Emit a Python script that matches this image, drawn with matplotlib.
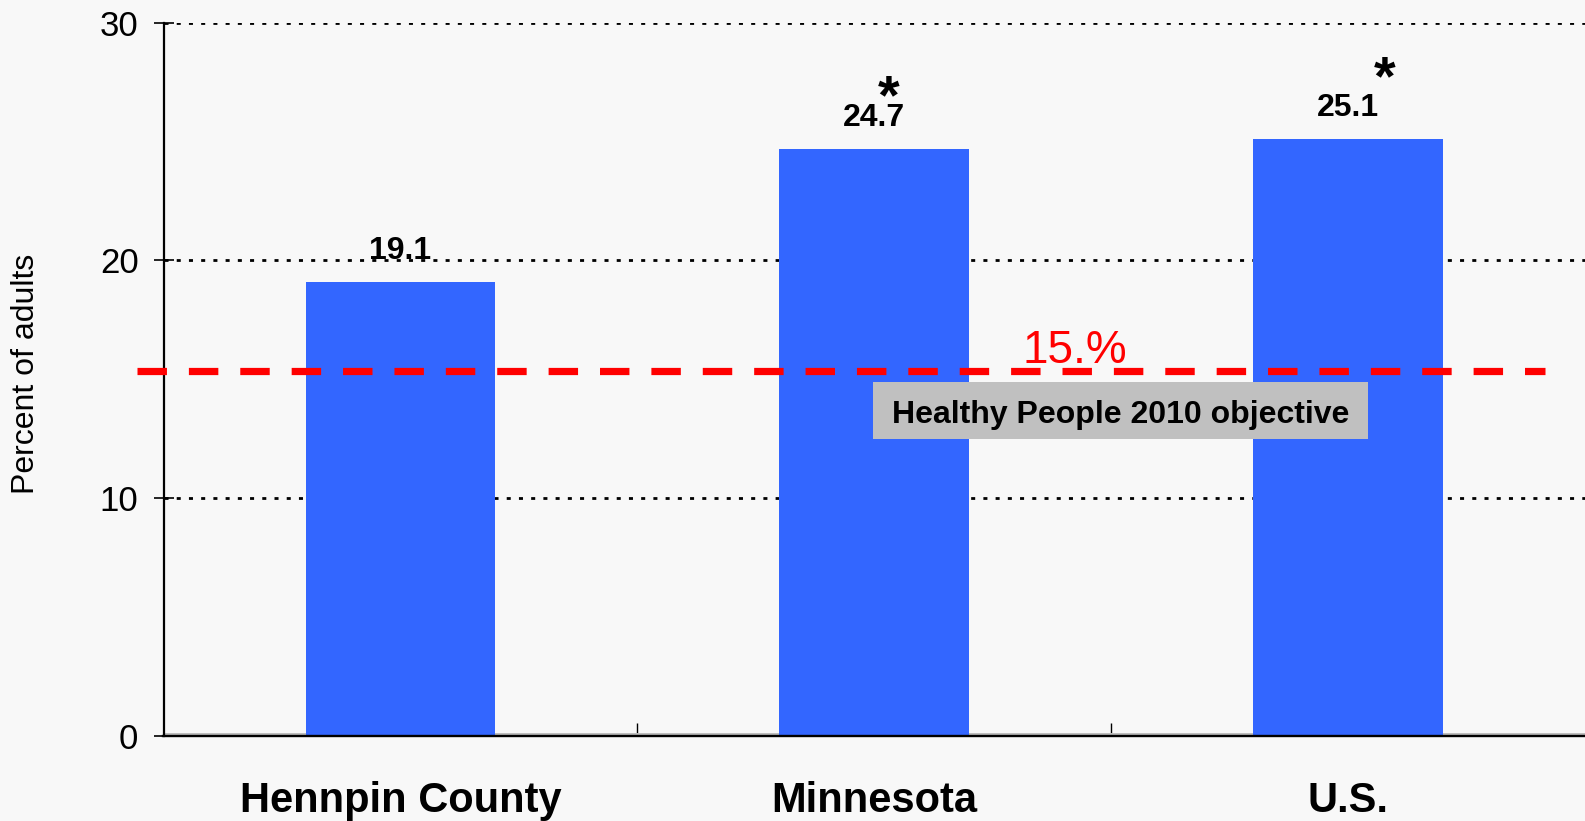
import matplotlib
matplotlib.use("Agg")
import matplotlib.pyplot as plt
from matplotlib.patches import Rectangle

CATEGORIES = ["Hennpin County", "Minnesota", "U.S."]
VALUES = [19.1, 24.7, 25.1]
VALUE_LABELS = ["19.1", "24.7", "25.1"]
SIGNIFICANT = [False, True, True]

OBJECTIVE_LEVEL = 15.35
OBJECTIVE_LABEL = "15.%"
OBJECTIVE_NOTE = "Healthy People 2010 objective"

Y_TICKS = [0, 10, 20, 30]

BAR_COLOR = "#3366ff"
BG = "#f8f8f8"

plt.rcParams.update({
    "font.family": ["Liberation Sans", "DejaVu Sans"],
    "lines.scale_dashes": False,
})

W, H = 1585, 821
fig = plt.figure(figsize=(W / 100, H / 100), dpi=100, facecolor=BG)
ax = fig.add_axes([163.5 / W, 1 - 736 / H, 1 - 163.5 / W, (736 - 22.7) / H])
ax.set_facecolor(BG)

x = list(range(len(CATEGORIES)))
ax.bar(x, VALUES, width=0.4, color=BAR_COLOR, zorder=2)

ax.set_xlim(-0.5, len(CATEGORIES) - 0.5)
ax.set_ylim(0, 30)

# dotted grid behind the bars
ax.set_axisbelow(True)
ax.set_yticks(Y_TICKS)
ax.yaxis.grid(True, color="black", linewidth=2.0, linestyle=(0, (2.9, 5.9)))

ax.tick_params(axis="y", direction="inout", length=15, width=1.2, pad=10.5,
               labelsize=25, colors="black")
ax.set_xticks([i + 0.5 for i in x[:-1]])
ax.set_xticklabels([])
ax.tick_params(axis="x", direction="in", length=9.5, width=1.0)

for side in ["top", "right"]:
    ax.spines[side].set_visible(False)
ax.spines["left"].set_linewidth(1.6)
ax.spines["bottom"].set_linewidth(1.7)
ax.axhline(0.09, color="#bdbdbd", linewidth=1.4, zorder=1)

# category names under the axis
for i, name in enumerate(CATEGORIES):
    ax.text(i, -0.1065, name, transform=ax.get_xaxis_transform(),
            ha="center", va="baseline", fontsize=30, fontweight="bold")

# value labels and significance stars
for i, (v, lab, sig) in enumerate(zip(VALUES, VALUE_LABELS, SIGNIFICANT)):
    ax.text(i, v + 0.97, lab, ha="center", va="baseline",
            fontsize=23, fontweight="bold", zorder=4)
    if sig:
        dx = 0.031 if i == 1 else 0.078
        dy = 1.5 if i == 1 else 1.88
        ax.text(i + dx, v + dy, "*", ha="center", va="baseline",
                fontsize=40, fontweight="bold", zorder=4)

# objective line (runs a bit past the y axis like the original)
ax.plot([-0.556, 2.416], [OBJECTIVE_LEVEL, OBJECTIVE_LEVEL], color="red",
        linewidth=5.2, linestyle=(0, (21.2, 15.8)), solid_capstyle="butt",
        dash_capstyle="butt", clip_on=False, zorder=5)
ax.text(1.424, OBJECTIVE_LEVEL + 0.33, OBJECTIVE_LABEL, color="red",
        ha="center", va="baseline", fontsize=33, zorder=6)

ax.add_patch(Rectangle((0.997, 12.48), 2.043 - 0.997, 14.90 - 12.48,
                       facecolor="#c0c0c0", edgecolor="none", zorder=6))
ax.text(1.52, 13.16, OBJECTIVE_NOTE, ha="center", va="baseline",
        fontsize=23, fontweight="bold", zorder=7)

fig.text(26.5 / W, 1 - 374 / H, "Percent of adults", rotation=90,
         ha="center", va="center", fontsize=23)

fig.savefig("out.png", dpi=100, facecolor=BG)
